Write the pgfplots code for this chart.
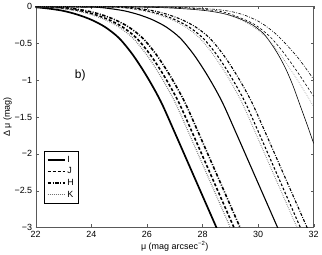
\documentclass[border=0pt]{standalone}
\usepackage{fontspec}
\setmainfont{Liberation Sans}
\usepackage{pgfplots}
\pgfplotsset{compat=1.18}
\begin{document}
\begin{tikzpicture}
\begin{axis}[
  scale only axis, width=278bp, height=221bp,
  xmin=22, xmax=32, ymin=-3, ymax=0,
  xtick={22,24,26,28,30,32}, xticklabels={22,24,26,28,30,32},
  ytick={-3,-2.5,-2,-1.5,-1,-0.5,0},
  yticklabels={−3,−2.5,−2,−1.5,−1,−0.5,0},
  tick label style={font=\fontsize{9}{10}\selectfont},
  label style={font=\fontsize{9}{10}\selectfont},
  xlabel={μ (mag arcsec\textsuperscript{−2})},
  ylabel={Δ μ (mag)},
  xlabel style={yshift=3bp},
  ylabel style={yshift=-4bp},
  axis line style={black!65},
  tick style={black!65},
  major tick length=3bp,
  tick align=inside,
  legend style={at={(0.03,0.345)}, anchor=north west, draw=black,
    font=\fontsize{9}{10}\selectfont, inner sep=2.5bp, row sep=0bp,
    cells={anchor=west}},
  legend image code/.code={\draw[#1] (0cm,0cm) -- (0.6cm,0cm);},
  clip=true,
]
% ---------- group 1 (thick) ----------
\addplot[black, line width=1.7pt, smooth] coordinates {
(22.0,-0.01) (22.5,-0.03) (23.0,-0.06) (23.5,-0.11) (24.0,-0.18) (24.5,-0.28)
(25.0,-0.43) (25.5,-0.66) (26.0,-0.95) (26.5,-1.29) (27.0,-1.71) (27.5,-2.14)
(28.0,-2.57) (28.5,-3.00) (29.0,-3.43)};
\addlegendentry{I}
\addplot[black, line width=1.6pt, smooth, dash pattern=on 3pt off 2pt] coordinates {
(22.0,-0.005) (22.63,-0.01) (23.13,-0.03) (23.63,-0.06) (24.13,-0.11) (24.63,-0.18)
(25.13,-0.28) (25.63,-0.43) (26.13,-0.66) (26.63,-0.95) (27.13,-1.29) (27.63,-1.71)
(28.13,-2.14) (28.63,-2.57) (29.13,-3.00) (29.63,-3.43)};
\addlegendentry{J}
\addplot[black, line width=1.6pt, smooth, dash pattern=on 3.5pt off 1.5pt on 1pt off 1.5pt] coordinates {
(22.0,-0.005) (22.85,-0.01) (23.35,-0.03) (23.85,-0.06) (24.35,-0.11) (24.85,-0.18)
(25.35,-0.28) (25.85,-0.43) (26.35,-0.66) (26.85,-0.95) (27.35,-1.29) (27.85,-1.71)
(28.35,-2.14) (28.85,-2.57) (29.35,-3.00) (29.85,-3.43)};
\addlegendentry{H}
\addplot[black!55, line width=1.2pt, smooth, dash pattern=on 0.7pt off 1.3pt] coordinates {
(22.0,-0.01) (22.5,-0.01) (23.0,-0.03) (23.5,-0.06) (24.0,-0.11) (24.5,-0.18)
(25.0,-0.28) (25.5,-0.43) (26.0,-0.66) (26.5,-0.95) (27.0,-1.29) (27.5,-1.71)
(28.0,-2.14) (28.5,-2.57) (29.0,-3.00) (29.5,-3.43)};
\addlegendentry{K}
% ---------- group 2 (medium) ----------
\addplot[black, line width=1.1pt, smooth, forget plot] coordinates {
(22.0,-0.002) (23.2,-0.005) (24.2,-0.01) (24.7,-0.03) (25.2,-0.06) (25.7,-0.11)
(26.2,-0.18) (26.7,-0.28) (27.2,-0.43) (27.7,-0.66) (28.2,-0.95) (28.7,-1.29)
(29.2,-1.71) (29.7,-2.14) (30.2,-2.57) (30.7,-3.00) (31.2,-3.43)};
\addplot[black, line width=1.1pt, smooth, dash pattern=on 2.5pt off 2pt, forget plot] coordinates {
(22.0,-0.001) (24.3,-0.005) (25.02,-0.01) (25.52,-0.03) (26.02,-0.06) (26.52,-0.11)
(27.02,-0.18) (27.52,-0.28) (28.02,-0.43) (28.52,-0.66) (29.02,-0.95) (29.52,-1.29)
(30.02,-1.71) (30.52,-2.14) (31.02,-2.57) (31.52,-3.00) (32.02,-3.43)};
\addplot[black, line width=1.1pt, smooth, dash pattern=on 3pt off 1.5pt on 0.8pt off 1.5pt, forget plot] coordinates {
(22.0,-0.001) (24.5,-0.005) (25.26,-0.01) (25.76,-0.03) (26.26,-0.06) (26.76,-0.11)
(27.26,-0.18) (27.76,-0.28) (28.26,-0.43) (28.76,-0.66) (29.26,-0.95) (29.76,-1.29)
(30.26,-1.71) (30.76,-2.14) (31.26,-2.57) (31.76,-3.00) (32.26,-3.43)};
\addplot[black!55, line width=0.9pt, smooth, dash pattern=on 0.6pt off 1.3pt, forget plot] coordinates {
(22.0,-0.001) (24.2,-0.005) (24.9,-0.01) (25.4,-0.03) (25.9,-0.06) (26.4,-0.11)
(26.9,-0.18) (27.4,-0.28) (27.9,-0.43) (28.4,-0.66) (28.9,-0.95) (29.4,-1.29)
(29.9,-1.71) (30.4,-2.14) (30.9,-2.57) (31.4,-3.00) (31.9,-3.43)};
% ---------- group 3 (thin) ----------
\addplot[black, line width=0.6pt, smooth, forget plot] coordinates {
(22.0,0) (25.0,-0.005) (26.5,-0.015) (27.5,-0.035) (28.2,-0.06) (28.8,-0.10)
(29.3,-0.16) (29.8,-0.25) (30.2,-0.37) (30.5,-0.52) (30.75,-0.67) (31.0,-0.85)
(31.25,-1.07) (31.5,-1.33) (31.75,-1.59) (32.0,-1.86)};
\addplot[black, line width=0.6pt, smooth, dash pattern=on 2.5pt off 2pt, forget plot] coordinates {
(22.0,0) (25.6,-0.005) (27.1,-0.015) (28.1,-0.04) (28.8,-0.08) (29.4,-0.16)
(29.9,-0.25) (30.4,-0.40) (30.8,-0.57) (31.1,-0.72) (31.4,-0.88) (31.7,-1.05)
(32.0,-1.22)};
\addplot[black, line width=0.6pt, smooth, dash pattern=on 3pt off 1.5pt on 0.8pt off 1.5pt, forget plot] coordinates {
(22.0,0) (25.85,-0.005) (27.35,-0.015) (28.35,-0.035) (29.05,-0.07) (29.6,-0.13)
(30.1,-0.22) (30.6,-0.36) (31.0,-0.51) (31.4,-0.68) (31.7,-0.83) (32.0,-0.99)};
\addplot[black!55, line width=0.5pt, smooth, dash pattern=on 0.6pt off 1.3pt, forget plot] coordinates {
(22.0,0) (25.5,-0.005) (27.0,-0.015) (28.0,-0.04) (28.7,-0.09) (29.3,-0.17)
(29.8,-0.27) (30.3,-0.42) (30.7,-0.60) (31.0,-0.76) (31.3,-0.93) (31.6,-1.11)
(32.0,-1.36)};
\node[font=\fontsize{12}{14}\selectfont] at (axis cs:23.6,-0.93) {b)};
\end{axis}
\end{tikzpicture}
\end{document}
